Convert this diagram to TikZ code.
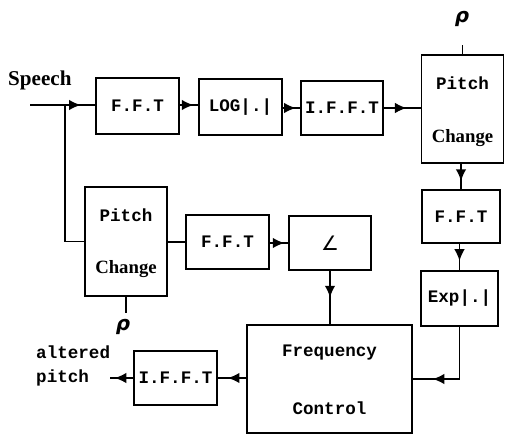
\documentclass[tikz,border=0pt]{standalone}
\usepackage{fontspec}
\setmainfont{Liberation Mono}
\newfontfamily\serifb{Liberation Serif}
\newfontfamily\dejavu{DejaVu Sans}
\usetikzlibrary{arrows.meta,decorations.markings}
\tikzset{
  blk/.style={draw,line width=1.5pt,inner sep=0pt,font=\fontsize{15}{17}\selectfont\bfseries},
  wire/.style={line width=1.4pt},
  arrat/.style={postaction={decorate,decoration={markings,mark=at position #1 with {\arrow{Latex[length=10pt,width=9pt]}}}}},
  lbl/.style={font=\fontsize{15}{17}\selectfont\bfseries,inner sep=0pt},
  rhostyle/.style={font=\dejavu\fontsize{17}{18}\selectfont\bfseries\itshape,inner sep=0pt}
}
\begin{document}
\begin{tikzpicture}[x=0.03cm,y=-0.03cm]
\useasboundingbox (0,0) rectangle (505,438);
% boxes
\node[blk,minimum width=83*0.03cm,minimum height=56*0.03cm] (fft1) at (137.5,106) {F.F.T};
\node[blk,minimum width=83*0.03cm,minimum height=56*0.03cm] (log) at (240.5,107) {LOG|.|};
\node[blk,minimum width=82*0.03cm,minimum height=54*0.03cm] (ifft1) at (342,108) {I.F.F.T};
\node[blk,minimum width=82*0.03cm,minimum height=108*0.03cm] (pc1) at (462.5,109) {};
\node[lbl] (pc1a) at (462.5,83) {Pitch};
\node[lbl,font=\serifb\fontsize{16}{18}\selectfont\bfseries] (pc1b) at (462.5,138) {Change};
\node[blk,minimum width=78*0.03cm,minimum height=53*0.03cm] (fft2) at (461,216.5) {F.F.T};
\node[blk,minimum width=77*0.03cm,minimum height=55*0.03cm] (exp) at (459.5,298.5) {Exp|.|};
\node[blk,minimum width=165*0.03cm,minimum height=108*0.03cm] (fc) at (329.5,379) {};
\node[lbl] (fca) at (329.5,353) {Frequency};
\node[lbl] (fcb) at (329.5,408) {Control};
\node[blk,minimum width=82*0.03cm,minimum height=54*0.03cm,font=\dejavu\fontsize{17}{18}\selectfont] (ang) at (330,243) {∠};
\node[blk,minimum width=83*0.03cm,minimum height=54*0.03cm] (fft3) at (227.5,242) {F.F.T};
\node[blk,minimum width=82*0.03cm,minimum height=109*0.03cm] (pc2) at (126,241.5) {};
\node[lbl] (pc2a) at (126,215) {Pitch};
\node[lbl,font=\serifb\fontsize{16}{18}\selectfont\bfseries] (pc2b) at (126,269) {Change};
\node[blk,minimum width=83*0.03cm,minimum height=54*0.03cm] (ifft2) at (175.5,378) {I.F.F.T};
% labels
\node[lbl,font=\serifb\fontsize{18}{20}\selectfont\bfseries,anchor=west] (sp) at (8,80) {Speech};
\node[lbl,anchor=west] (alt1) at (36,352) {altered};
\node[lbl,anchor=west] (alt2) at (36,378) {pitch};
\node[rhostyle] (rho1) at (462,19) {ρ};
\node[rhostyle] (rho2) at (123,327) {ρ};
% coordinates
\coordinate (sin) at (30,105);
\coordinate (br) at (65,105);
\coordinate (r1) at (462.5,45);
\coordinate (r2) at (126,313);
\coordinate (out) at (110,378);
% connectors
\draw[wire,arrat=0.78] (sin) -- (fft1.west |- sin);
\draw[wire] (br) |- (pc2.west);
\draw[wire,arrat=0.75] (fft1.east |- sin) -- (log.west |- sin);
\draw[wire,arrat=0.75] (log.east |- ifft1) -- (ifft1.west);
\draw[wire,arrat=0.62] (ifft1.east) -- (pc1.west |- ifft1);
\draw[wire] (pc1.north) -- (r1);
\draw[wire,arrat=0.68] (pc1.south -| fft2.north) -- (fft2.north);
\draw[wire,arrat=0.65] (fft2.south -| exp.north) -- (exp.north);
\draw[wire,arrat=0.8] (exp.south) |- (fc.east);
\draw[wire] (pc2.east |- fft3) -- (fft3.west);
\draw[wire,arrat=0.8] (fft3.east |- ang) -- (ang.west);
\draw[wire,arrat=0.5] (ang.south) -- (fc.north -| ang.south);
\draw[wire] (pc2.south) -- (r2);
\draw[wire,arrat=0.65] (fc.west |- ifft2) -- (ifft2.east);
\draw[wire,arrat=0.8] (ifft2.west) -- (out);
\end{tikzpicture}
\end{document}
